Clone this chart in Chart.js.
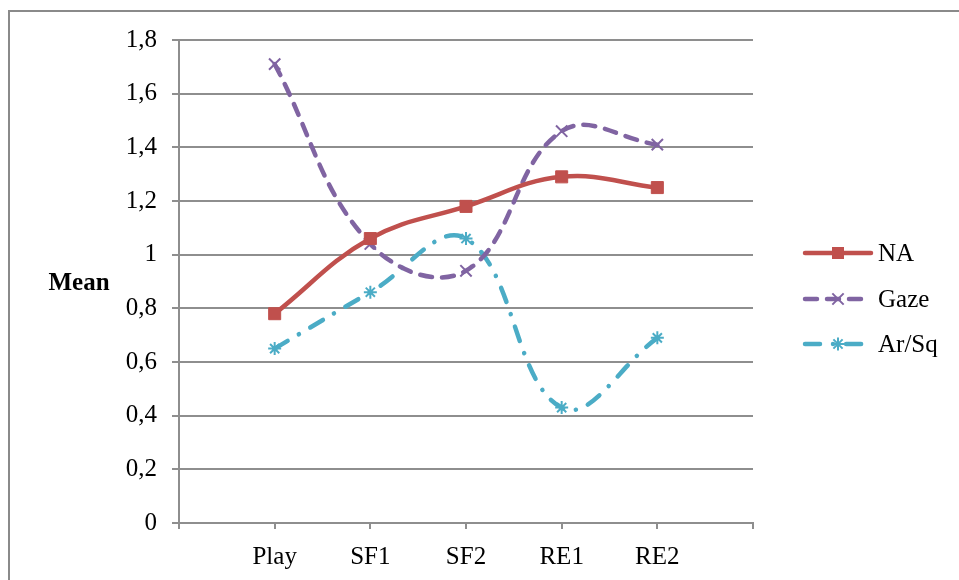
<!DOCTYPE html>
<html>
<head>
<meta charset="utf-8">
<script src="https://cdn.jsdelivr.net/npm/chart.js@4.4.1/dist/chart.umd.min.js"></script>
<style>
  html, body { margin: 0; padding: 0; background: #ffffff; }
  canvas { display: block; }
</style>
</head>
<body>
<canvas id="c" width="959" height="580" style="width:959px;height:580px"></canvas>
<script>
const categories = ['', 'Play', 'SF1', 'SF2', 'RE1', 'RE2', ''];
const seriesNames = ['NA', 'Gaze', 'Ar/Sq'];
const naValues = [null, 0.78, 1.06, 1.18, 1.29, 1.25, null];
const gazeValues = [null, 1.71, 1.04, 0.94, 1.46, 1.41, null];
const arsqValues = [null, 0.65, 0.86, 1.06, 0.43, 0.69, null];
const yTickLabels = ['0', '0,2', '0,4', '0,6', '0,8', '1', '1,2', '1,4', '1,6', '1,8'];
const yAxisTitle = 'Mean';

const FONT = '"Liberation Serif", "Times New Roman", serif';
const GRID = '#8e8e8e';

function drawMarker(ctx, style, x, y, r, color, bw) {
  ctx.save();
  ctx.strokeStyle = color;
  ctx.fillStyle = color;
  ctx.lineWidth = bw;
  ctx.setLineDash([]);
  ctx.beginPath();
  if (style === 'rect') {
    const s = Math.SQRT1_2 * r;
    ctx.rect(x - s, y - s, 2 * s, 2 * s);
    ctx.fill();
  } else if (style === 'crossRot') {
    const o = Math.SQRT1_2 * r;
    ctx.moveTo(x - o, y - o); ctx.lineTo(x + o, y + o);
    ctx.moveTo(x - o, y + o); ctx.lineTo(x + o, y - o);
    ctx.stroke();
  } else if (style === 'star') {
    const o = Math.SQRT1_2 * r;
    ctx.moveTo(x - o, y - o); ctx.lineTo(x + o, y + o);
    ctx.moveTo(x - o, y + o); ctx.lineTo(x + o, y - o);
    ctx.moveTo(x, y - r); ctx.lineTo(x, y + r);
    ctx.moveTo(x - r, y); ctx.lineTo(x + r, y);
    ctx.stroke();
  }
  ctx.restore();
}

const decorPlugin = {
  id: 'decor',
  afterDraw(chart) {
    const ctx = chart.ctx;
    ctx.save();
    // outer frame (top + left edges visible)
    ctx.strokeStyle = '#8a8a8a';
    ctx.lineWidth = 2;
    ctx.beginPath();
    ctx.moveTo(9, 580);
    ctx.lineTo(9, 11);
    ctx.lineTo(959, 11);
    ctx.stroke();

    // y axis title, horizontal
    ctx.fillStyle = '#000';
    ctx.font = 'bold 25px ' + FONT;
    ctx.textAlign = 'center';
    ctx.textBaseline = 'middle';
    ctx.fillText(yAxisTitle, 79, 284);

    // legend
    const ys = [253, 299, 344];
    chart.data.datasets.forEach((ds, i) => {
      const y = ys[i];
      ctx.save();
      ctx.strokeStyle = ds.borderColor;
      ctx.lineWidth = ds.borderWidth;
      ctx.lineCap = 'round';
      ctx.setLineDash(ds.borderDash || []);
      ctx.beginPath();
      ctx.moveTo(805, y);
      ctx.lineTo(871, y);
      ctx.stroke();
      ctx.restore();
      drawMarker(ctx, ds.pointStyle, 838, y, ds.pointRadius, ds.pointBorderColor, ds.pointBorderWidth);
      ctx.fillStyle = '#000';
      ctx.font = '25px ' + FONT;
      ctx.textAlign = 'left';
      ctx.textBaseline = 'middle';
      ctx.fillText(ds.label, 878, y + 1);
    });
    ctx.restore();
  }
};

const ctx = document.getElementById('c').getContext('2d');
new Chart(ctx, {
  type: 'line',
  data: {
    labels: categories,
    datasets: [
      {
        label: seriesNames[0],
        data: naValues,
        borderColor: '#C0504D',
        backgroundColor: '#C0504D',
        borderWidth: 4.5,
        tension: 0.4,
        pointStyle: 'rect',
        pointRadius: 8.5,
        pointBorderColor: '#C0504D',
        pointBackgroundColor: '#C0504D',
        pointBorderWidth: 1,
        borderCapStyle: 'round'
      },
      {
        label: seriesNames[1],
        data: gazeValues,
        borderColor: '#8064A2',
        backgroundColor: '#8064A2',
        borderWidth: 4.5,
        borderDash: [12, 10],
        borderCapStyle: 'round',
        tension: 0.4,
        pointStyle: 'crossRot',
        pointRadius: 8,
        pointBorderColor: '#8064A2',
        pointBorderWidth: 2
      },
      {
        label: seriesNames[2],
        data: arsqValues,
        borderColor: '#4BACC6',
        backgroundColor: '#4BACC6',
        borderWidth: 4.5,
        borderDash: [15, 13, 0.1, 13],
        borderCapStyle: 'round',
        tension: 0.4,
        pointStyle: 'star',
        pointRadius: 6.5,
        pointBorderColor: '#4BACC6',
        pointBorderWidth: 2
      }
    ]
  },
  options: {
    responsive: false,
    animation: false,
    devicePixelRatio: 1,
    spanGaps: true,
    layout: { padding: { left: 0, top: 40, right: 206, bottom: 0 } },
    plugins: {
      legend: { display: false },
      tooltip: { enabled: false },
      title: { display: false }
    },
    scales: {
      x: {
        type: 'category',
        offset: false,
        grid: {
          display: true,
          drawOnChartArea: false,
          drawTicks: true,
          tickLength: 6,
          color: GRID,
          lineWidth: 2
        },
        border: { display: true, color: GRID, width: 2 },
        ticks: {
          autoSkip: false,
          maxRotation: 0,
          padding: 13,
          color: '#000',
          font: { family: FONT, size: 25 }
        },
        afterFit(scale) { scale.height = 57; }
      },
      y: {
        min: 0,
        max: 1.8,
        grid: {
          color: GRID,
          lineWidth: 2,
          tickLength: 7,
          drawTicks: true
        },
        border: { display: true, color: GRID, width: 2 },
        ticks: {
          stepSize: 0.2,
          padding: 15,
          color: '#000',
          font: { family: FONT, size: 25 },
          callback: (value, index) => yTickLabels[index]
        },
        afterFit(scale) { scale.width = 179; }
      }
    }
  },
  plugins: [decorPlugin]
});
</script>
</body>
</html>
